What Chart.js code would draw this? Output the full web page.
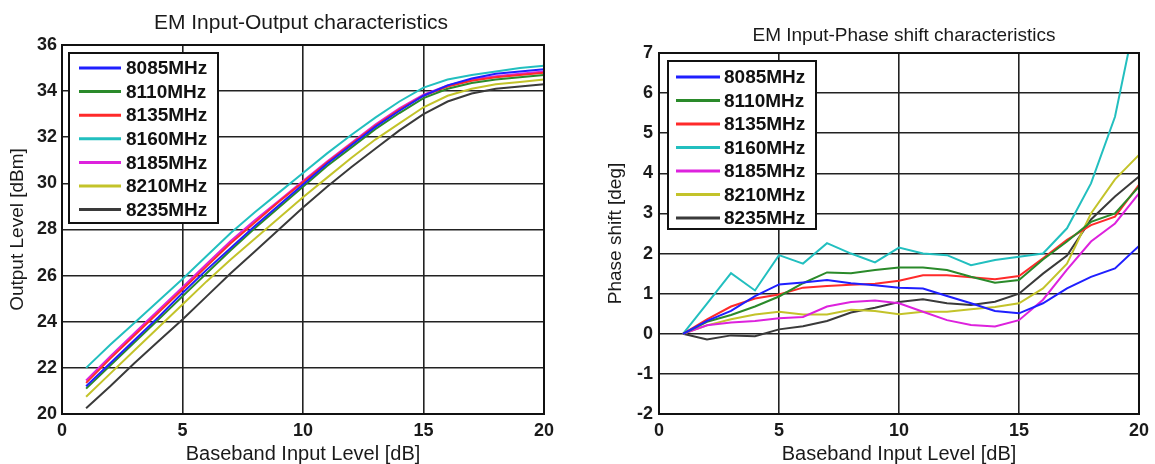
<!DOCTYPE html>
<html><head><meta charset="utf-8">
<script src="https://cdn.jsdelivr.net/npm/chart.js@4.4.1/dist/chart.umd.min.js"></script>
<style>
html,body{margin:0;padding:0;background:#fff;overflow:hidden;}
#wrap{position:relative;width:1155px;height:464px;}
canvas{position:absolute;top:0;}
#c1{left:0;} #c2{left:580px;}
</style></head><body>
<div id="wrap"><canvas id="c1" width="580" height="464"></canvas><canvas id="c2" width="575" height="464"></canvas></div>
<script>
// ---------- data ----------
const inputLevels = [1,2,3,4,5,6,7,8,9,10,11,12,13,14,15,16,17,18,19,20];
const freqLabels = ['8085MHz','8110MHz','8135MHz','8160MHz','8185MHz','8210MHz','8235MHz'];
const seriesColors = ['#1f1fff','#2a8a2a','#ff2a2a','#22bfbf','#dd22dd','#c3c32a','#3a3a3a'];

const out8085 = [21.2,22.2,23.2,24.2,25.25,26.25,27.2,28.15,29.05,29.95,30.85,31.65,32.45,33.15,33.8,34.25,34.55,34.75,34.85,34.95];
const out8110 = [21.1,22.1,23.1,24.1,25.1,26.1,27.1,28.05,28.95,29.85,30.75,31.55,32.35,33.05,33.7,34.1,34.35,34.5,34.6,34.7];
const out8135 = [21.35,22.4,23.4,24.4,25.4,26.4,27.4,28.3,29.2,30.05,30.9,31.7,32.5,33.2,33.8,34.2,34.45,34.6,34.7,34.8];
const out8160 = [22.0,23.0,23.95,24.9,25.85,26.85,27.85,28.75,29.6,30.45,31.3,32.1,32.85,33.55,34.15,34.5,34.7,34.85,35.0,35.1];
const out8185 = [21.45,22.5,23.5,24.5,25.5,26.5,27.5,28.4,29.25,30.1,30.95,31.75,32.55,33.25,33.85,34.25,34.5,34.65,34.75,34.85];
const out8210 = [20.75,21.75,22.75,23.75,24.75,25.75,26.7,27.6,28.5,29.4,30.25,31.1,31.9,32.6,33.3,33.8,34.1,34.3,34.4,34.5];
const out8235 = [20.25,21.2,22.2,23.15,24.1,25.1,26.1,27.05,28.0,28.95,29.85,30.7,31.5,32.3,33.0,33.55,33.9,34.1,34.2,34.3];

const phase8085 = [0,0.32,0.57,0.94,1.23,1.28,1.34,1.26,1.21,1.15,1.13,0.94,0.76,0.57,0.51,0.76,1.13,1.42,1.63,2.19];
const phase8110 = [0,0.3,0.47,0.68,0.93,1.26,1.53,1.51,1.59,1.65,1.65,1.59,1.42,1.27,1.34,1.85,2.3,2.79,3.0,3.67];
const phase8135 = [0,0.36,0.68,0.88,0.98,1.15,1.19,1.22,1.25,1.32,1.46,1.46,1.41,1.36,1.44,1.88,2.34,2.71,2.92,3.71];
const phase8160 = [0,0.75,1.51,1.08,1.96,1.75,2.26,2.0,1.78,2.15,2.0,1.96,1.71,1.84,1.92,2.0,2.63,3.75,5.41,8.3];
const phase8185 = [0,0.21,0.28,0.32,0.39,0.42,0.68,0.79,0.83,0.76,0.55,0.34,0.22,0.18,0.34,0.85,1.6,2.3,2.75,3.5];
const phase8210 = [0,0.21,0.36,0.48,0.55,0.48,0.48,0.6,0.57,0.49,0.55,0.55,0.61,0.67,0.76,1.13,1.75,3.0,3.85,4.46];
const phase8235 = [0,-0.14,-0.04,-0.06,0.11,0.19,0.32,0.53,0.65,0.79,0.86,0.76,0.72,0.8,1.0,1.5,1.95,2.85,3.42,3.92];

const outputSeries = [out8085,out8110,out8135,out8160,out8185,out8210,out8235];
const phaseSeries = [phase8085,phase8110,phase8135,phase8160,phase8185,phase8210,phase8235];

const leftTitle = 'EM Input-Output characteristics';
const rightTitle = 'EM Input-Phase shift characteristics';
const xAxisTitle = 'Baseband Input Level [dB]';
const leftYTitle = 'Output Level [dBm]';
const rightYTitle = 'Phase shift [deg]';

// ---------- helpers ----------
const FONT = "'Liberation Sans', Arial, sans-serif";

function makeDatasets(list){
  return list.map((vals,i)=>({
    label: freqLabels[i],
    data: inputLevels.map((x,j)=>({x:x,y:vals[j]})),
    borderColor: seriesColors[i],
    backgroundColor: seriesColors[i],
    borderWidth: 2,
    pointRadius: 0,
    tension: 0,
    fill: false
  }));
}

const panelDecor = {
  id: 'panelDecor',
  afterDraw(chart, args, o){
    const ctx = chart.ctx, a = chart.chartArea;
    ctx.save();
    ctx.strokeStyle = '#111'; ctx.lineWidth = 2;
    ctx.strokeRect(a.left, a.top, a.right-a.left, a.bottom-a.top);
    ctx.fillStyle = '#1a1a1a';
    ctx.font = o.titleFont;
    ctx.textAlign = 'center'; ctx.textBaseline = 'middle';
    ctx.fillText(o.title, (a.left+a.right)/2 + o.titleDx, o.titleY);
    const bx = a.left + o.boxX, by = a.top + o.boxY;
    ctx.fillStyle = '#fff';
    ctx.fillRect(bx, by, o.boxW, o.boxH);
    ctx.strokeStyle = '#111'; ctx.lineWidth = 2;
    ctx.strokeRect(bx, by, o.boxW, o.boxH);
    ctx.font = o.legendFont;
    ctx.textAlign = 'left'; ctx.textBaseline = 'middle';
    chart.data.datasets.forEach((ds,i)=>{
      const cy = by + o.rowStart + i*o.rowGap;
      ctx.strokeStyle = ds.borderColor; ctx.lineWidth = 3;
      ctx.beginPath(); ctx.moveTo(bx+o.lineX0, cy); ctx.lineTo(bx+o.lineX1, cy); ctx.stroke();
      ctx.fillStyle = '#111';
      ctx.fillText(ds.label, bx+o.textX, cy+1);
    });
    ctx.restore();
  }
};

function makeConfig(series, yMin, yMax, yStep, yTitle, p){
  return {
    type: 'line',
    data: { datasets: makeDatasets(series) },
    plugins: [panelDecor],
    options: {
      responsive: false,
      devicePixelRatio: 1,
      animation: false,
      events: [],
      layout: { padding: { top: p.top, right: p.right, left: 0, bottom: 0 } },
      plugins: {
        legend: { display: false },
        tooltip: { enabled: false },
        title: { display: false },
        panelDecor: p.decor
      },
      scales: {
        x: {
          type: 'linear', min: 0, max: 20,
          ticks: { stepSize: 5, color: '#1a1a1a', padding: 6, font: { family: FONT, size: 18, weight: 'bold' } },
          grid: { color: '#222', lineWidth: 1.6, drawTicks: false },
          border: { color: '#111', width: 2 },
          title: { display: true, text: xAxisTitle, color: '#1a1a1a', padding: { top: 0, bottom: 0 }, font: { family: FONT, size: 20, lineHeight: 1.0 } },
          afterFit(s){ s.height = 50; }
        },
        y: {
          type: 'linear', min: yMin, max: yMax,
          ticks: { stepSize: yStep, color: '#1a1a1a', padding: p.yPad, font: { family: FONT, size: 18, weight: 'bold' } },
          grid: { color: '#222', lineWidth: 1.6, drawTicks: false },
          border: { color: '#111', width: 2 },
          title: { display: true, text: yTitle, color: '#1a1a1a', padding: { top: p.yTitlePad, bottom: 0 }, font: { family: FONT, size: 19, lineHeight: 1.0 } },
          afterFit(s){ s.width = p.yWidth; }
        }
      }
    }
  };
}

new Chart(document.getElementById('c1'), makeConfig(outputSeries, 20, 36, 2, leftYTitle, {
  top: 45, right: 36, yWidth: 62, yPad: 5, yTitlePad: 8,
  decor: { title: leftTitle, titleFont: "21px " + FONT, titleDx: -2, titleY: 23,
    boxX: 7, boxY: 8, boxW: 149, boxH: 170, rowStart: 15, rowGap: 23.6, lineX0: 10, lineX1: 52, textX: 57,
    legendFont: "bold 19px " + FONT }
}));

new Chart(document.getElementById('c2'), makeConfig(phaseSeries, -2, 7, 1, rightYTitle, {
  top: 53, right: 14, yWidth: 79, yPad: 6, yTitlePad: 26,
  decor: { title: rightTitle, titleFont: "19px " + FONT, titleDx: 5, titleY: 36,
    boxX: 9, boxY: 8, boxW: 148, boxH: 168, rowStart: 16, rowGap: 23.5, lineX0: 8, lineX1: 52, textX: 56,
    legendFont: "bold 19px " + FONT }
}));
</script></body></html>
